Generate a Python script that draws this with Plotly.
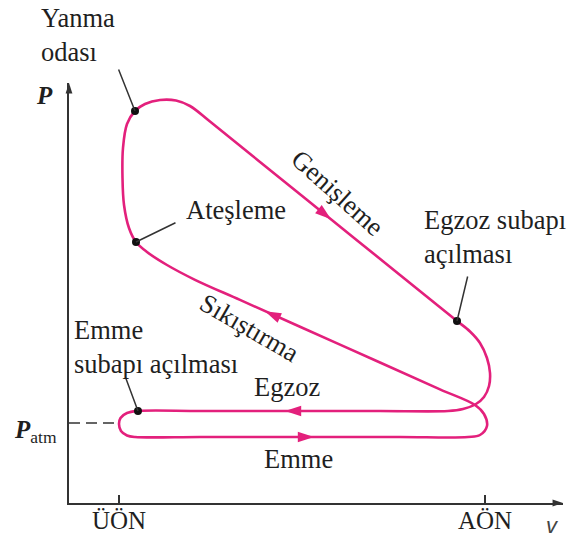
import plotly.graph_objects as go

# Four-stroke engine cycle on a P-v diagram.
# v: cylinder volume (ÜÖN = 1, AÖN = 8); P: pressure in atmospheres (P_atm = 1).

# Closed path of the cycle, starting mid-way along the intake stroke
cycle_v = [4.462, 6.374, 7.675, 7.904, 8.038, 7.981, 7.809,
           7.139, 5.992, 4.462, 3.314, 2.4536, 1.918, 1.5355, 1.325,
           1.191, 1.096, 1.067, 1.0765, 1.153, 1.306, 1.497, 1.784, 2.090, 2.358,
           2.7405, 3.697, 5.0356, 6.3744, 7.139, 7.4646,
           7.713, 7.904, 8.038, 8.096, 8.077, 7.981, 7.828, 7.579, 7.292,
           5.992, 4.270, 2.549, 1.363,
           1.153, 1.029, 1.000, 1.038, 1.153, 1.306, 2.549, 4.462]
cycle_p = [0.825, 0.825, 0.825, 0.850, 0.9625, 1.1125, 1.225,
           1.4206, 1.756, 2.2031, 2.5385, 2.790, 2.975, 3.1375, 3.2625,
           3.4375, 3.725, 4.0625, 4.4375, 4.7375, 4.900, 4.9875, 5.0375, 5.031, 4.9625,
           4.768, 4.2635, 3.557, 2.850, 2.4466, 2.275,
           2.144, 2.000, 1.8125, 1.625, 1.4625, 1.325, 1.2375, 1.175, 1.150,
           1.150, 1.150, 1.150, 1.150,
           1.125, 1.0625, 0.9875, 0.900, 0.844, 0.825, 0.825, 0.825]

# Marked events on the cycle and the tail ends of their leader lines
event_names = ["Yanma<br>odası", "Ateşleme", "Egzoz subapı<br>açılması", "Emme<br>subapı açılması"]
event_v = [1.306, 1.325, 7.4646, 1.363]
event_p = [4.900, 3.2625, 2.275, 1.150]
leader_v = [0.981, 2.109, 7.675, 1.115]
leader_p = [5.4375, 3.5125, 2.850, 1.5875]
label_v = [-0.530, 2.250, 6.795, 0.100]
label_p = [5.85, 3.66, 3.32, 1.95]

# Direction arrows on the strokes (tip position and heading, degrees clockwise from up)
arrow_v = [5.0547, 3.7924, 4.175, 4.729]
arrow_p = [3.547, 2.396, 1.150, 0.825]
arrow_angle = [128.9, -65.9, -90, 90]

# Stroke names placed along the path
stroke_names = ["Genişleme", "Sıkıştırma", "Egzoz", "Emme"]
stroke_v = [5.188, 3.505, 4.213, 4.424]
stroke_p = [3.875, 2.1875, 1.446, 0.55]
stroke_angle = [42, 30, 0, 0]

# Atmospheric pressure reference
p_atm = 1.0
atm_dash_v = [0.0437, 0.92]

# Dead-centre tick positions
tick_v = [1, 8]
tick_text = ["ÜÖN", "AÖN"]

V_RANGE = [0.0437, 9.492]
P_RANGE = [0.0, 5.25]

# Arrow tips closing off both axes
axis_tip_v = [V_RANGE[0], V_RANGE[1]]
axis_tip_p = [P_RANGE[1], P_RANGE[0]]
axis_tip_angle = [0, 90]


def paper_x(v):
    return (v - V_RANGE[0]) / (V_RANGE[1] - V_RANGE[0])


def paper_y(p):
    return (p - P_RANGE[0]) / (P_RANGE[1] - P_RANGE[0])


MAGENTA = "#e3207c"
INK = "#1f1f1f"
AXIS = "#333333"
SERIF = "Liberation Serif"
FS = 26.5

fig = go.Figure()

fig.add_trace(go.Scatter(
    x=atm_dash_v, y=[p_atm, p_atm], mode="lines",
    line=dict(color=AXIS, width=1.5, dash="11px,6px"),
    hoverinfo="skip", showlegend=False))

fig.add_trace(go.Scatter(
    x=cycle_v, y=cycle_p, mode="lines",
    line=dict(color=MAGENTA, width=2.6, shape="spline", smoothing=1.0),
    hoverinfo="skip", showlegend=False))

fig.add_trace(go.Scatter(
    x=arrow_v, y=arrow_p, mode="markers",
    marker=dict(symbol="arrow", size=17, angle=arrow_angle, color=MAGENTA,
                line=dict(width=0)),
    hoverinfo="skip", showlegend=False, cliponaxis=False))

fig.add_trace(go.Scatter(
    x=event_v, y=event_p, mode="markers",
    marker=dict(symbol="circle", size=8, color="#111111"),
    hoverinfo="skip", showlegend=False, cliponaxis=False))

fig.add_trace(go.Scatter(
    x=axis_tip_v, y=axis_tip_p, mode="markers",
    marker=dict(symbol="arrow", size=11, angle=axis_tip_angle, color=AXIS,
                line=dict(width=0)),
    hoverinfo="skip", showlegend=False, cliponaxis=False))

annotations = []

# Leader lines from each event label to its point on the cycle
for ev, ep, lv, lp in zip(event_v, event_p, leader_v, leader_p):
    annotations.append(dict(
        x=ev, y=ep, xref="x", yref="y", ax=lv, ay=lp, axref="x", ayref="y",
        text="", showarrow=True, arrowhead=0, arrowwidth=1.5, arrowcolor=AXIS,
        standoff=0, startstandoff=0))

for name, lv, lp in zip(event_names, label_v, label_p):
    annotations.append(dict(
        x=paper_x(lv), y=paper_y(lp), xref="paper", yref="paper", text=name,
        showarrow=False, xanchor="left", yanchor="middle", align="left",
        font=dict(family=SERIF, size=FS, color=INK)))

for name, sv, sp, ang in zip(stroke_names, stroke_v, stroke_p, stroke_angle):
    annotations.append(dict(
        x=sv, y=sp, xref="x", yref="y", text=name, showarrow=False,
        textangle=ang, xanchor="center", yanchor="middle",
        font=dict(family=SERIF, size=FS, color=INK)))

# Axis titles
annotations.append(dict(
    x=paper_x(-0.434), y=paper_y(5.0875), xref="paper", yref="paper",
    text="<i><b>P</b></i>", showarrow=False, xanchor="center", yanchor="middle",
    font=dict(family=SERIF, size=25, color=INK)))
annotations.append(dict(
    x=paper_x(-0.600), y=paper_y(0.890), xref="paper", yref="paper",
    text="<i><b>P</b></i><sub>atm</sub>", showarrow=False,
    xanchor="center", yanchor="middle",
    font=dict(family=SERIF, size=25, color=INK)))
annotations.append(dict(
    x=paper_x(9.30), y=paper_y(-0.275), xref="paper", yref="paper",
    text="<i>v</i>", showarrow=False, xanchor="center", yanchor="middle",
    font=dict(family="Liberation Sans", size=22, color="#444444")))

fig.update_layout(
    width=573, height=540,
    margin=dict(l=69, r=10, t=83, b=37, autoexpand=False),
    paper_bgcolor="white", plot_bgcolor="white",
    annotations=annotations,
    xaxis=dict(range=V_RANGE, showgrid=False, zeroline=False, automargin=False,
               showline=True, linecolor=AXIS, linewidth=2,
               ticks="inside", ticklen=8, tickwidth=2, tickcolor=AXIS,
               tickvals=tick_v, ticktext=tick_text, ticklabelstandoff=-6,
               tickfont=dict(family=SERIF, size=25, color=INK)),
    yaxis=dict(range=P_RANGE, showgrid=False, zeroline=False, automargin=False,
               showline=True, linecolor=AXIS, linewidth=2,
               showticklabels=False, ticks=""),
)

fig.write_html("out.html")
